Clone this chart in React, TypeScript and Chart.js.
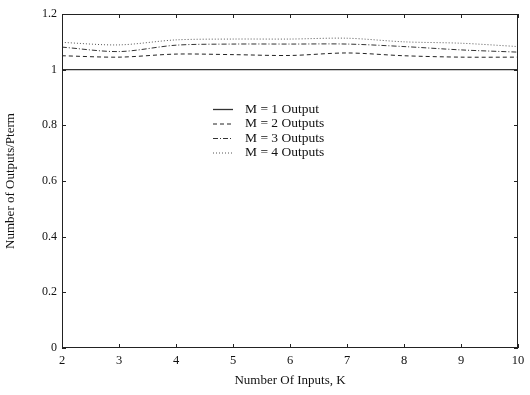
import React, { useEffect, useRef } from "react";
import { Chart, registerables } from "chart.js";

Chart.register(...registerables);

const kValues = [2, 3, 4, 5, 6, 7, 8, 9, 10];
const m1Values = [1, 1, 1, 1, 1, 1, 1, 1, 1];
const m2Values = [1.05, 1.045, 1.056, 1.054, 1.051, 1.06, 1.05, 1.045, 1.045];
const m3Values = [1.081, 1.065, 1.088, 1.092, 1.092, 1.092, 1.083, 1.071, 1.063];
const m4Values = [1.098, 1.089, 1.107, 1.11, 1.11, 1.113, 1.1, 1.095, 1.083];
const seriesLabels = ["M = 1 Output", "M = 2 Outputs", "M = 3 Outputs", "M = 4 Outputs"];
const yTickValues = [0, 0.2, 0.4, 0.6, 0.8, 1, 1.2];

const FONT = "'Liberation Serif', 'DejaVu Serif', serif";

const framePlugin = {
  id: "frame",
  afterDraw(chart: any) {
    const { ctx, chartArea } = chart;
    const { left, right, top, bottom } = chartArea;
    const xs = chart.scales.x;
    const ys = chart.scales.y;
    ctx.save();
    ctx.strokeStyle = "#222";
    ctx.lineWidth = 1;
    ctx.setLineDash([]);
    ctx.strokeRect(left + 0.5, top + 0.5, right - left - 1, bottom - top - 1);
    const tl = 4;
    ctx.beginPath();
    xs.ticks.forEach((t: any) => {
      const x = Math.round(xs.getPixelForValue(t.value)) + 0.5;
      ctx.moveTo(x, bottom);
      ctx.lineTo(x, bottom - tl);
      ctx.moveTo(x, top);
      ctx.lineTo(x, top + tl);
    });
    ys.ticks.forEach((t: any) => {
      const y = Math.round(ys.getPixelForValue(t.value)) + 0.5;
      ctx.moveTo(left, y);
      ctx.lineTo(left + tl, y);
      ctx.moveTo(right, y);
      ctx.lineTo(right - tl, y);
    });
    ctx.stroke();

    // legend
    ctx.font = "13.5px " + FONT;
    ctx.fillStyle = "#111";
    ctx.textBaseline = "middle";
    chart.data.datasets.forEach((ds: any, i: number) => {
      const y = top + 95 + i * 14.5;
      const x0 = left + 151;
      ctx.beginPath();
      ctx.strokeStyle = ds.borderColor;
      ctx.lineWidth = ds.borderWidth;
      ctx.setLineDash(ds.borderDash || []);
      ctx.moveTo(x0, y + 0.5);
      ctx.lineTo(x0 + 20, y + 0.5);
      ctx.stroke();
      ctx.setLineDash([]);
      ctx.fillText(ds.label, x0 + 32, y);
    });
    ctx.restore();
  },
};

export default function App() {
  const ref = useRef<HTMLCanvasElement | null>(null);
  useEffect(() => {
    if (!ref.current) return;
    const mk = (vals: number[]) => kValues.map((k, i) => ({ x: k, y: vals[i] }));
    const chart = new Chart(ref.current, {
      type: "line",
      data: {
        datasets: [
          { label: seriesLabels[0], data: mk(m1Values), borderColor: "#333", borderWidth: 1.3, borderDash: [], pointRadius: 0, tension: 0.3 },
          { label: seriesLabels[1], data: mk(m2Values), borderColor: "#222", borderWidth: 1, borderDash: [4, 3], pointRadius: 0, tension: 0.3 },
          { label: seriesLabels[2], data: mk(m3Values), borderColor: "#333", borderWidth: 1, borderDash: [5, 2, 1, 2], pointRadius: 0, tension: 0.3 },
          { label: seriesLabels[3], data: mk(m4Values), borderColor: "#555", borderWidth: 1, borderDash: [1, 2], pointRadius: 0, tension: 0.3 },
        ],
      },
      options: {
        responsive: false,
        animation: false,
        layout: { padding: { left: 0, right: 12, top: 14, bottom: 0 } },
        plugins: { legend: { display: false }, tooltip: { enabled: false } },
        scales: {
          x: {
            type: "linear",
            min: 2,
            max: 10,
            ticks: { stepSize: 1, color: "#111", font: { family: FONT, size: 12.5 }, padding: 5 },
            grid: { display: false, drawTicks: false },
            border: { display: false },
            title: { display: true, text: "Number Of Inputs, K", color: "#111", font: { family: FONT, size: 13 }, padding: { top: 0, bottom: 7 } },
            afterFit: (s: any) => { s.height = 47; },
          },
          y: {
            type: "linear",
            min: 0,
            max: 1.2,
            afterBuildTicks: (s: any) => { s.ticks = yTickValues.map((v) => ({ value: v })); },
            ticks: {
              color: "#111",
              font: { family: FONT, size: 12 },
              padding: 5,
              callback: (v: any) => String(Math.round(Number(v) * 10) / 10),
            },
            grid: { display: false, drawTicks: false },
            border: { display: false },
            title: { display: true, text: "Number of Outputs/Pterm", color: "#111", font: { family: FONT, size: 13 }, padding: { top: 3, bottom: 0 } },
            afterFit: (s: any) => { s.width = 62; },
          },
        },
      },
      plugins: [framePlugin],
    } as any);
    return () => chart.destroy();
  }, []);
  return (
    <div style={{ position: "absolute", left: 0, top: 0, width: 530, height: 395, background: "#fff" }}>
      <canvas ref={ref} width={530} height={395} style={{ width: 530, height: 395 }} />
    </div>
  );
}
